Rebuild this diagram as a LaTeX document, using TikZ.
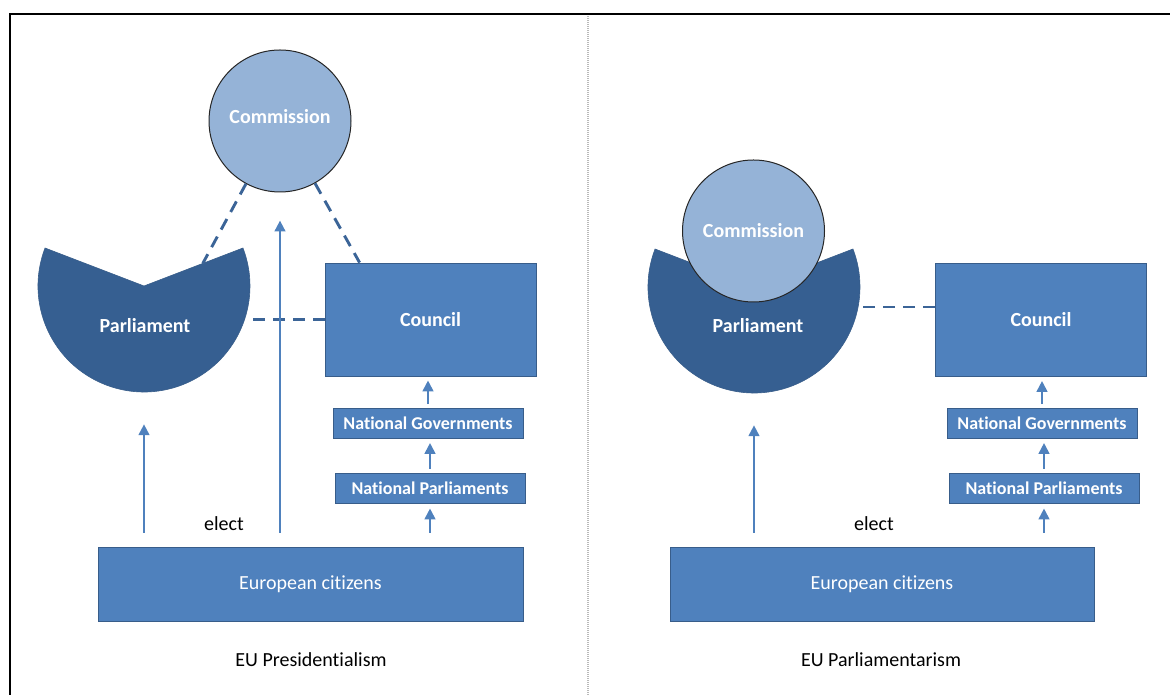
\documentclass[tikz,border=0pt]{standalone}
\usepackage{fontspec}
\setmainfont{Carlito}[Ligatures=NoCommon]
\usetikzlibrary{arrows.meta}

\definecolor{commfill}{HTML}{95B3D7}
\definecolor{parlfill}{HTML}{365F91}
\definecolor{boxfill}{HTML}{4F81BD}
\definecolor{boxline}{HTML}{385D8A}
\definecolor{linkblue}{HTML}{3B6497}

\begin{document}
\begin{tikzpicture}[x=1pt, y=1pt,
    box/.style={rectangle, fill=boxfill, draw=boxline, line width=0.8pt, inner sep=0pt,
      text=white, font=\bfseries\fontsize{20}{24}\selectfont},
    smallbox/.style={box, minimum width=190pt, minimum height=30pt,
      font=\bfseries\fontsize{18}{22}\selectfont},
    body/.style={circle, fill=commfill, draw=black!85, line width=1pt, minimum size=142pt,
      inner sep=0pt, text=white, font=\bfseries\fontsize{20}{24}\selectfont},
    parl/.style={fill=parlfill, draw=boxline, line width=0.6pt},
    parltext/.style={text=white, font=\bfseries\fontsize{20}{24}\selectfont},
    up/.style={draw=boxfill, line width=2.9pt, -{Triangle[length=11pt, width=10.5pt]}},
    link/.style={draw=linkblue, line width=2.9pt, dash pattern=on 12pt off 8pt},
    plain/.style={font=\fontsize{20}{24}\selectfont}]
    \useasboundingbox (0,0) rectangle (1170,695);
    \draw[line width=2.5pt] (10,0) -- (10,681) -- (1170,681);
    \draw[gray!55, line width=1.2pt, dash pattern=on 1pt off 1pt] (588,0) -- (588,680);

    \node[circle, minimum size=212pt, inner sep=0pt] (par1) at (144,409) {};
    \fill[parl] (par1.center) -- ++(159:106) arc[start angle=159, end angle=381, radius=106] -- cycle;
    \node[parltext] (parlab1) at (145,369) {Parliament};
    \node[body, text depth=10pt] (com1) at (280,574) {Commission};
    \node[box, minimum width=211pt, minimum height=113pt] (cou1) at (430.5,375.5) {Council};
    \node[smallbox] (gov1) at (428,271.5) {National Governments};
    \node[smallbox] (npar1) at (430,207) {National Parliaments};
    \node[box, minimum width=425pt, minimum height=74pt, font=\fontsize{20}{24}\selectfont] (cit1) at (310.5,111) {European citizens};
    \node[plain] (elect1) at (224,171) {elect};
    \node[plain] (name1) at (311,35) {EU Presidentialism};

    \node[circle, minimum size=212pt, inner sep=0pt] (par2) at (754,408) {};
    \fill[parl] (par2.center) -- ++(159:106) arc[start angle=159, end angle=381, radius=106] -- cycle;
    \node[parltext] (parlab2) at (758,369) {Parliament};
    \node[body] (com2) at (753.5,464) {Commission};
    \node[box, minimum width=211pt, minimum height=113pt] (cou2) at (1041,375) {Council};
    \node[smallbox] (gov2) at (1042,271.5) {National Governments};
    \node[smallbox] (npar2) at (1044,207) {National Parliaments};
    \node[box, minimum width=424pt, minimum height=74pt, font=\fontsize{20}{24}\selectfont] (cit2) at (882,111) {European citizens};
    \node[plain] (elect2) at (874,171) {elect};
    \node[plain] (name2) at (881,35) {EU Parliamentarism};

    \coordinate (tip1) at ([shift={(21:63)}]par1.center);
    \draw[link] (com1) -- (tip1);
    \draw[link] (com1) -- ([xshift=35pt]cou1.north west);
    \draw[link] (cou1.west) -- (cou1.west -| par1.east);
    \coordinate (join2) at ([yshift=13pt]cou2.west);
    \draw[link] (join2) -- (join2 -| par2.east);

    \draw[up, shorten <=14pt, shorten >=28pt] (cit1.north -| com1) -- (com1.south);
    \foreach \i in {1,2} {
      \draw[up, shorten <=14pt, shorten >=32pt] (cit\i.north -| par\i) -- (par\i.south);
      \draw[up, shorten <=14pt, shorten >=5pt] (cit\i.north -| npar\i) -- (npar\i.south);
      \draw[up, shorten <=4pt, shorten >=4pt] (npar\i.north) -- (npar\i.north |- gov\i.south);
      \draw[up, shorten <=4pt, shorten >=4pt] (gov\i.north) -- (gov\i.north |- cou\i.south);
    }
\end{tikzpicture}
\end{document}
